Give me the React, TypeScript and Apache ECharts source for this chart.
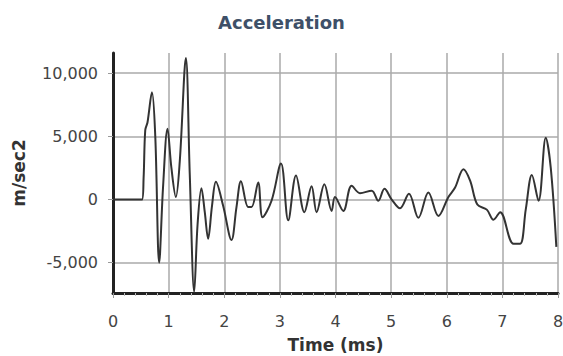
import React, { useEffect, useRef } from "react";
import * as echarts from "echarts";

const timeMs = [
  0, 0.52, 0.55, 0.58, 0.62, 0.7, 0.76, 0.83, 0.9, 0.98, 1.05, 1.13, 1.2, 1.31, 1.38, 1.46,
  1.52, 1.59, 1.65, 1.71, 1.78, 1.85, 1.98, 2.13, 2.22, 2.3, 2.43, 2.49, 2.61, 2.69, 2.85,
  3.02, 3.15, 3.29, 3.44, 3.57, 3.66, 3.8, 3.93, 3.99, 4.14, 4.29, 4.44, 4.65, 4.77, 4.88,
  5.01, 5.16, 5.32, 5.49, 5.67, 5.85, 6.03, 6.15, 6.3, 6.42, 6.55, 6.72, 6.84, 6.96, 7.2,
  7.32, 7.42, 7.53, 7.65, 7.78, 7.87, 7.97,
];
const accel = [
  0, 0, 1700, 5500, 6100, 8500, 5000, -5000, 1000, 5600, 2500, 200, 3000, 11200, 2000, -7300,
  -2000, 900, -1000, -3100, -500, 1400, -500, -3200, -600, 1450, -600, -600, 1350, -1400, -100,
  2850, -1650, 1900, -1000, 1050, -1000, 1200, -900, 200, -900, 1100, 500, 700, -100, 850,
  0, -700, 450, -1450, 550, -1300, 200, 950, 2400, 1500, -400, -800, -1600, -1000, -3500,
  -3500, -800, 1950, -100, 4900, 2500, -3750,
];
const yTickValues = [-5000, 0, 5000, 10000];
const title = "Acceleration";
const xName = "Time (ms)";
const yName = "m/sec2";

export default function App() {
  const ref = useRef<HTMLDivElement>(null);
  useEffect(() => {
    if (!ref.current) return;
    const chart = echarts.init(ref.current, undefined, { renderer: "svg" });
    const data = timeMs.map((t, i) => [t, accel[i]]);
    chart.setOption({
      animation: false,
      backgroundColor: "#ffffff",
      title: {
        text: title,
        left: "center",
        top: 13,
        padding: 0,
        textStyle: {
          fontFamily: "DejaVu Sans",
          fontSize: 18,
          fontWeight: "bold",
          color: "#3e5068",
        },
      },
      grid: { left: 113, right: 5, top: 53, bottom: 63, outerBoundsMode: "none", containLabel: false },
      xAxis: {
        type: "value",
        min: 0,
        max: 8,
        interval: 1,
        name: xName,
        nameLocation: "middle",
        nameGap: 43,
        nameTextStyle: {
          fontFamily: "DejaVu Sans",
          fontSize: 17,
          fontWeight: "bold",
          color: "#333",
        },
        axisLine: { show: true, onZero: false, lineStyle: { color: "#222", width: 3 } },
        axisTick: { show: true, length: 5, lineStyle: { color: "#999", width: 1 } },
        minorTick: { show: true, splitNumber: 5, length: 3, lineStyle: { color: "#bbb" } },
        axisLabel: {
          margin: 20,
          fontFamily: "DejaVu Sans",
          fontSize: 16,
          color: "#444",
        },
        splitLine: { show: true, lineStyle: { color: "#aaa", width: 1.5 } },
      },
      yAxis: {
        type: "value",
        min: -7400,
        max: 11600,
        name: yName,
        nameLocation: "middle",
        nameGap: 86,
        nameTextStyle: {
          fontFamily: "DejaVu Sans",
          fontSize: 17,
          fontWeight: "bold",
          color: "#333",
        },
        axisLine: { show: true, onZero: false, lineStyle: { color: "#222", width: 3 } },
        axisTick: { show: true, length: 5, customValues: yTickValues, lineStyle: { color: "#999" } },
        axisLabel: {
          margin: 15,
          customValues: yTickValues,
          fontFamily: "DejaVu Sans",
          fontSize: 16,
          color: "#444",
          formatter: (v: number) => v.toLocaleString("en-US"),
        },
        splitLine: { show: true, lineStyle: { color: "#aaa", width: 1.5 } },
      },
      series: [
        {
          type: "line",
          data,
          smooth: 0.35,
          symbol: "none",
          lineStyle: { color: "#333", width: 2 },
        },
      ],
    });
    return () => chart.dispose();
  }, []);
  return <div ref={ref} style={{ width: 563, height: 356, position: "absolute", left: 0, top: 0 }} />;
}
